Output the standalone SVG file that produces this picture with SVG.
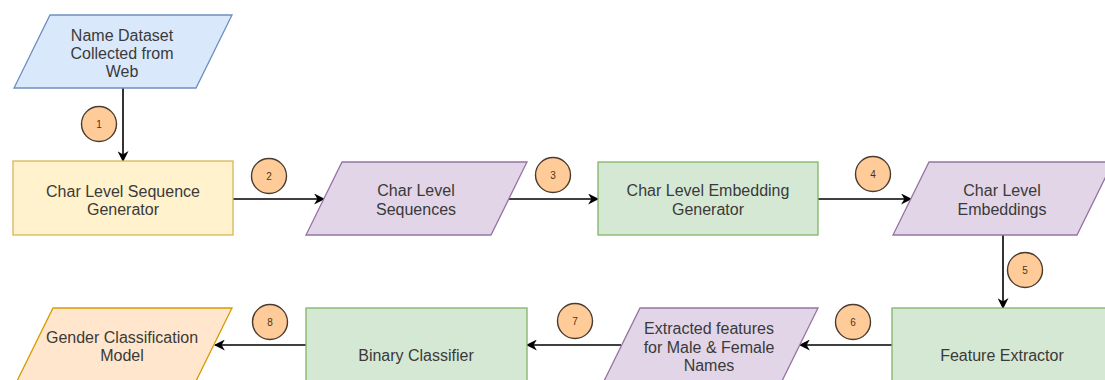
<svg xmlns="http://www.w3.org/2000/svg" width="1105" height="380" viewBox="0 0 1105 380">
<defs>
<style>
.lbl{font-family:"Liberation Sans",Arial,sans-serif;font-size:16px;fill:#3a3a3a;text-anchor:middle}
.num{font-family:"Liberation Sans",Arial,sans-serif;font-size:10px;fill:#4a3420;text-anchor:middle}
.blue{fill:#dae8fc;stroke:#6c8ebf;stroke-width:1.3}
.yellow{fill:#fff2cc;stroke:#d6b656;stroke-width:1.3}
.purple{fill:#e1d5e7;stroke:#9673a6;stroke-width:1.3}
.green{fill:#d5e8d4;stroke:#82b366;stroke-width:1.3}
.orange{fill:#ffe6cc;stroke:#d79b00;stroke-width:1.3}
.step{fill:#ffcc99;stroke:#4a3c30;stroke-width:1.4}
.edge{fill:none;stroke:#000000;stroke-width:1.6}
</style>
<marker id="arr" viewBox="0 0 10 10" refX="9" refY="5" markerWidth="11" markerHeight="11" markerUnits="userSpaceOnUse" orient="auto">
<path d="M0,0 L10,5 L0,10 L3,5 Z" fill="#000000"/>
</marker>
</defs>

<g id="connectors">
<line class="edge" x1="123" y1="88" x2="123" y2="161" marker-end="url(#arr)"/>
<line class="edge" x1="233" y1="199" x2="324" y2="199" marker-end="url(#arr)"/>
<line class="edge" x1="509" y1="199" x2="598" y2="199" marker-end="url(#arr)"/>
<line class="edge" x1="818" y1="199" x2="911" y2="199" marker-end="url(#arr)"/>
<line class="edge" x1="1003" y1="235" x2="1003" y2="308" marker-end="url(#arr)"/>
<line class="edge" x1="892" y1="345" x2="800" y2="345" marker-end="url(#arr)"/>
<line class="edge" x1="621" y1="345" x2="527" y2="345" marker-end="url(#arr)"/>
<line class="edge" x1="306" y1="345" x2="215" y2="345" marker-end="url(#arr)"/>
</g>

<g id="node-dataset">
<polygon class="blue" points="50,15 232,15 196,88 14,88"/>
<text class="lbl" x="122" y="40.5">Name Dataset</text>
<text class="lbl" x="122" y="58.5">Collected from</text>
<text class="lbl" x="122" y="76.5">Web</text>
</g>

<g id="node-seqgen">
<rect class="yellow" x="13" y="161" width="220" height="74"/>
<text class="lbl" x="123" y="196.5">Char Level Sequence</text>
<text class="lbl" x="123" y="214.5">Generator</text>
</g>

<g id="node-sequences">
<polygon class="purple" points="342,162 527,162 491,235 306,235"/>
<text class="lbl" x="416" y="195.5">Char Level</text>
<text class="lbl" x="416" y="214.5">Sequences</text>
</g>

<g id="node-embgen">
<rect class="green" x="598" y="162" width="220" height="73"/>
<text class="lbl" x="708" y="195.5">Char Level Embedding</text>
<text class="lbl" x="708" y="214.5">Generator</text>
</g>

<g id="node-embeddings">
<polygon class="purple" points="929,162 1113,162 1077,235 893,235"/>
<text class="lbl" x="1002" y="195.5">Char Level</text>
<text class="lbl" x="1002" y="214.5">Embeddings</text>
</g>

<g id="node-extractor">
<rect class="green" x="892" y="308" width="221" height="92"/>
<text class="lbl" x="1002" y="360.5">Feature Extractor</text>
</g>

<g id="node-features">
<polygon class="purple" points="640,308 818,308 782,381 604,381"/>
<text class="lbl" x="709" y="333.5">Extracted features</text>
<text class="lbl" x="709" y="352.5">for Male &amp; Female</text>
<text class="lbl" x="709" y="370.5">Names</text>
</g>

<g id="node-classifier">
<rect class="green" x="306" y="308" width="221" height="92"/>
<text class="lbl" x="416" y="360.5">Binary Classifier</text>
</g>

<g id="node-model">
<polygon class="orange" points="53,308 232,308 196,381 17,381"/>
<text class="lbl" x="122" y="342.5">Gender Classification</text>
<text class="lbl" x="122" y="360.5">Model</text>
</g>

<g id="step-labels">
<circle class="step" cx="99" cy="124" r="17.5"/><text class="num" x="99" y="127.5">1</text>
<circle class="step" cx="269" cy="176" r="17.5"/><text class="num" x="269" y="179.5">2</text>
<circle class="step" cx="553" cy="175" r="17.5"/><text class="num" x="553" y="178.5">3</text>
<circle class="step" cx="873" cy="174" r="17.5"/><text class="num" x="873" y="177.5">4</text>
<circle class="step" cx="1025" cy="270" r="17.5"/><text class="num" x="1025" y="273.5">5</text>
<circle class="step" cx="853" cy="322" r="17.5"/><text class="num" x="853" y="325.5">6</text>
<circle class="step" cx="575" cy="321" r="17.5"/><text class="num" x="575" y="324.5">7</text>
<circle class="step" cx="270" cy="322" r="17.5"/><text class="num" x="270" y="325.5">8</text>
</g>
</svg>
